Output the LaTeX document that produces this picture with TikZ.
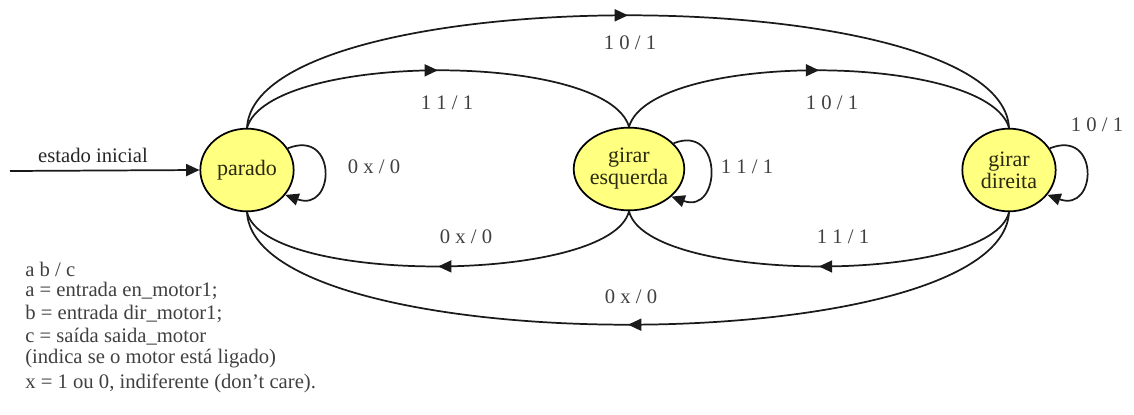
\documentclass[tikz,border=0pt]{standalone}
\usepackage{fontspec}
\setmainfont{Liberation Serif}
\usetikzlibrary{arrows.meta,shapes.geometric,decorations.markings}
\definecolor{stfill}{HTML}{FFFF80}
\definecolor{lbl}{HTML}{404040}
\definecolor{ln}{HTML}{1A1A1A}
\definecolor{sttext}{HTML}{2A2A10}
\tikzset{
  state/.style={ellipse,draw=black,line width=1.3pt,fill=stfill,minimum width=70pt,minimum height=62pt,inner sep=0pt,align=center,text=sttext,font=\fontsize{16.5}{16.5}\selectfont},
  edge/.style={draw=ln,line width=1.3pt},
  midarrow/.style={edge,postaction={decorate},decoration={markings,mark=at position 0.5 with {\arrow{Triangle[length=10pt,width=9pt]}}}},
  endarrow/.style={edge,-{Triangle[length=10pt,width=9pt]}},
  tlabel/.style={text=lbl,font=\fontsize{15.5}{17}\selectfont,inner sep=0pt},
  legend/.style={text=lbl,anchor=west,font=\fontsize{15.5}{17}\selectfont,inner sep=0pt}
}
\begin{document}
\begin{tikzpicture}[x=0.75pt,y=-0.75pt]
\useasboundingbox (0,0) rectangle (1134,414);
\node[state] (p) at (247,170) {parado};
\node[state] (e) at (629,169) {girar\\esquerda};
\node[state] (d) at (1009,170) {girar\\direita};
% initial
\coordinate (i0) at (10,171);
\draw[endarrow] (i0) -- (p.west);
\node[tlabel,text=black!85] (il) at (93,155) {estado inicial};
% top arcs
\draw[midarrow] (p.north) .. controls +(8,-150) and +(-8,-150) .. (d.north);
\draw[midarrow] (p.north) .. controls +(22,-76) and +(-22,-76) .. (e.north);
\draw[midarrow] (e.north) .. controls +(22,-76) and +(-22,-76) .. (d.north);
\node[tlabel] (l1) at (630,43) {1 0 / 1};
\node[tlabel] (l2) at (447,103) {1 1 / 1};
\node[tlabel] (l3) at (832,103) {1 0 / 1};
% bottom arcs
\draw[midarrow] (e.south) .. controls +(-18,73) and +(18,73) .. (p.south);
\draw[midarrow] (d.south) .. controls +(-18,73) and +(18,73) .. (e.south);
\draw[midarrow] (d.south) .. controls +(-8,150) and +(8,150) .. (p.south);
\node[tlabel] (l4) at (466,237) {0 x / 0};
\node[tlabel] (l5) at (843,237) {1 1 / 1};
\node[tlabel] (l6) at (631,297) {0 x / 0};
% self loops
\draw[endarrow] (p.28) .. controls +(50,-20) and +(50,18) .. (p.-33);
\draw[endarrow] (e.30) .. controls +(50,-20) and +(50,18) .. (e.-33);
\draw[endarrow] (d.28) .. controls +(50,-20) and +(50,18) .. (d.-33);
\node[tlabel] (l7) at (374,167) {0 x / 0};
\node[tlabel] (l8) at (747,167) {1 1 / 1};
\node[tlabel] (l9) at (1097,125) {1 0 / 1};
% legend
\node[legend] (g1) at (25,269) {a b / c};
\node[legend] (g2) at (25,291) {a = entrada en\_motor1;};
\node[legend] (g3) at (25,314) {b = entrada dir\_motor1;};
\node[legend] (g4) at (25,337) {c = saída saida\_motor};
\node[legend] (g5) at (25,359) {(indica se o motor está ligado)};
\node[legend] (g6) at (25,383) {x = 1 ou 0, indiferente (don't care).};
\end{tikzpicture}
\end{document}
